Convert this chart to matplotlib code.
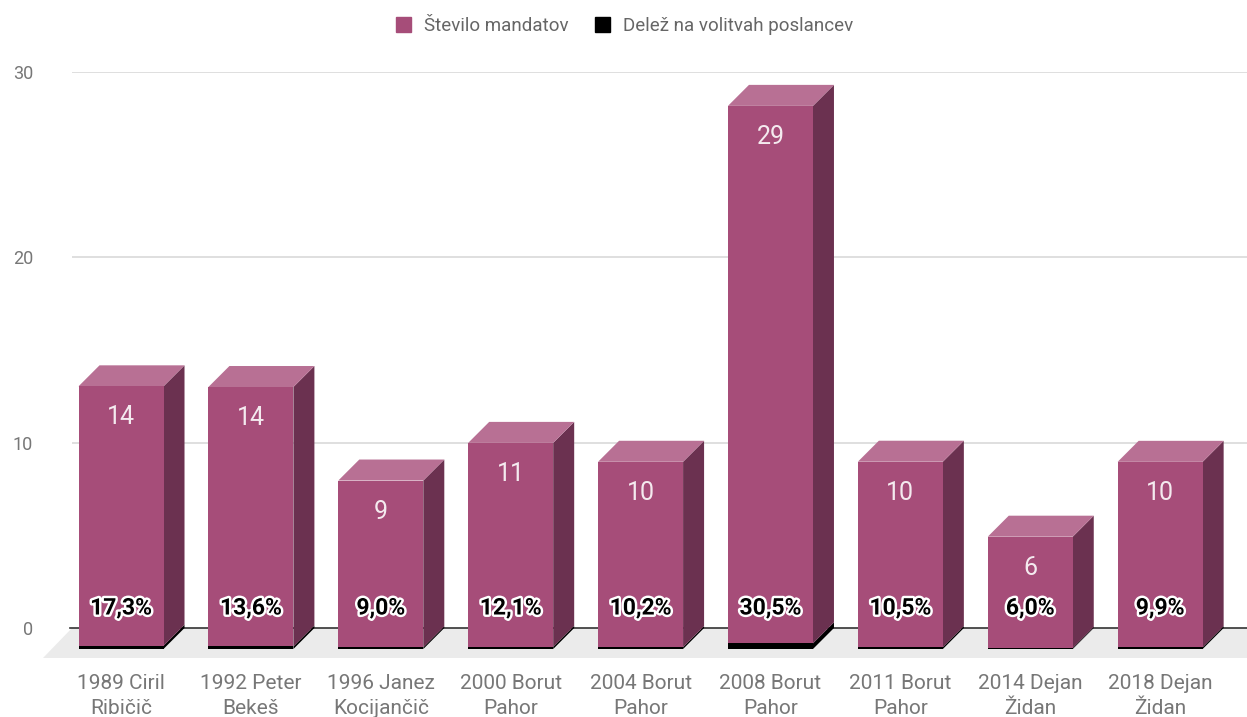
import matplotlib.pyplot as plt
import matplotlib.patheffects as pe
from matplotlib.patches import Patch, Polygon
import numpy as np

plt.rcParams['font.family'] = ['Roboto', 'DejaVu Sans']

categories = ['1989 Ciril\nRibičič', '1992 Peter\nBekeš', '1996 Janez\nKocijančič',
              '2000 Borut\nPahor', '2004 Borut\nPahor', '2008 Borut\nPahor',
              '2011 Borut\nPahor', '2014 Dejan\nŽidan', '2018 Dejan\nŽidan']
mandati = [14, 14, 9, 11, 10, 29, 10, 6, 10]
delez = [17.3, 13.6, 9.0, 12.1, 10.2, 30.5, 10.5, 6.0, 9.9]   # %
yticks = [0, 10, 20, 30]

front_c = '#a64d79'
top_c = '#b87094'
side_c = '#6b3150'
grey = '#777777'

fig = plt.figure(figsize=(12.47, 7.17), dpi=100)
W, H = 1247, 717
# back plane: 0 at y=628px, 30 at y=72px, x from 72px to right edge
ax = fig.add_axes([72 / W, (H - 628) / H, (W - 72) / W, (628 - 72) / H])
xmin, xmax = -0.539, 8.507
ax.set_xlim(xmin, xmax)
ax.set_ylim(0, 30)

px_x = (W - 72) / (xmax - xmin)
px_y = (628 - 72) / 30
dx = 21 / px_x      # depth of bars
dy = 21 / px_y
fdx = 29 / px_x     # depth of floor
fdy = 30 / px_y
w = 85 / px_x

x = np.arange(len(categories))
p = np.array(delez) / 100
n = np.array(mandati)

# grid and floor
for t in yticks[1:]:
    ax.axhline(t, color='#d9d9d9', lw=1.2, zorder=0)
ax.add_patch(Polygon([(xmin, 0), (xmax + 1, 0), (xmax + 1 - fdx, -fdy), (xmin - fdx, -fdy)],
                     closed=True, fc='#ebebeb', ec='none', zorder=1, clip_on=False))
ax.plot([xmin - 0.015, xmax], [0, 0], color='#333333', lw=1.2, zorder=1.5, clip_on=False)

# 3D bars
for xi, pi, ni in zip(x, p, n):
    l, r = xi - w / 2, xi + w / 2
    # black segment
    ax.add_patch(Polygon([(r - dx, -dy), (r, 0), (r, pi), (r - dx, pi - dy)],
                         fc='#000000', ec='none', zorder=3, clip_on=False))
    # pink segment side + top
    top = pi + ni
    ax.add_patch(Polygon([(r - dx, pi - dy), (r, pi), (r, top), (r - dx, top - dy)],
                         fc=side_c, ec='none', zorder=3, clip_on=False))
    ax.add_patch(Polygon([(l - dx, top - dy), (r - dx, top - dy), (r, top), (l, top)],
                         fc=top_c, ec='none', zorder=3, clip_on=False))

ax.bar(x - dx, p, w, bottom=-dy, color='#000000', zorder=3.5, clip_on=False)
ax.bar(x - dx, n, w, bottom=p - dy, color=front_c, zorder=3.5, clip_on=False)

# labels
for xi, pi, ni, d in zip(x, p, n, delez):
    ax.annotate(str(ni), (xi - dx, pi + ni - dy), xytext=(0, -31 / 1.389),
                textcoords='offset points', ha='center', va='center',
                fontsize=18, color='#f4eaef', zorder=5, annotation_clip=False)
    ax.annotate(f'{d:.1f}%'.replace('.', ','), (xi - dx, -dy), xytext=(0, 41 / 1.389),
                textcoords='offset points', ha='center', va='center',
                fontsize=16.5, fontweight='bold', color='#000000', zorder=5,
                annotation_clip=False,
                path_effects=[pe.withStroke(linewidth=3.5, foreground='white')])

ax.set_yticks(yticks)
ax.set_yticklabels([str(t) for t in yticks], fontsize=13, color=grey)
ax.set_xticks(x - dx)
ax.set_xticklabels(categories, fontsize=15, color=grey, linespacing=1.4)
ax.tick_params(axis='y', length=0, pad=28)
ax.tick_params(axis='x', length=0, pad=33)
for s in ax.spines.values():
    s.set_visible(False)

handles = [Patch(color=front_c, label='Število mandatov'),
           Patch(color='#000000', label='Delež na volitvah poslancev')]
fig.legend(handles=handles, loc='center', bbox_to_anchor=(0.501, 1 - 26 / H), ncol=2,
           frameon=False, fontsize=13.5, labelcolor='#666666', handlelength=0.8,
           handleheight=0.8, handletextpad=0.7, columnspacing=1.4)

fig.savefig('out.png', dpi=100)
